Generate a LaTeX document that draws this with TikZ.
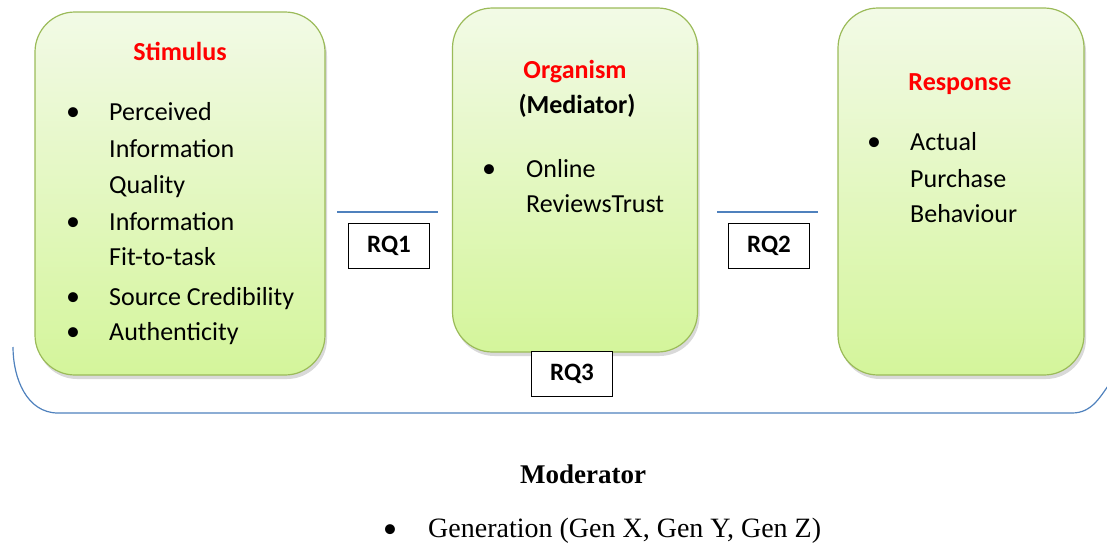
\documentclass[tikz,border=0pt]{standalone}
\usepackage{fontspec}
\setmainfont{Carlito}
\newfontfamily\timesfont{Liberation Serif}
\usetikzlibrary{shadows}
\definecolor{boxtop}{RGB}{242,250,230}
\definecolor{boxbot}{RGB}{212,245,155}
\definecolor{boxline}{RGB}{155,187,89}
\definecolor{linkblue}{RGB}{79,129,189}
\definecolor{titlered}{RGB}{255,0,0}
\tikzset{
  stage/.style={draw=boxline, line width=1.2pt, rounded corners=40pt,
    top color=boxtop, bottom color=boxbot,
    drop shadow={shadow xshift=2pt, shadow yshift=-4pt, opacity=0.3}},
  txt/.style={font=\fontsize{26}{32}\selectfont, inner sep=0pt, anchor=base west},
  ttl/.style={font=\bfseries\fontsize{26}{32}\selectfont, inner sep=0pt, anchor=base},
  bul/.style={font=\fontsize{28}{32}\selectfont, inner sep=0pt, anchor=base},
  rq/.style={draw=black, line width=1.3pt, fill=white, inner sep=0pt,
    minimum width=81pt, minimum height=45pt, font=\bfseries\fontsize{25}{30}\selectfont},
  link/.style={draw=linkblue, line width=1.2pt},
  mod/.style={font=\timesfont\fontsize{28}{32}\selectfont, inner sep=0pt}
}
\begin{document}
\begin{tikzpicture}[x=1pt, y=-1pt]
\useasboundingbox (0,0) rectangle (1107,546);

% the big bracket of the moderator
\draw[link] (13,347) to[out=-90, in=180] (58,413) -- (1072,413)
  to[out=0, in=-125] (1112,380);

% three stages
\node[stage, minimum width=290pt, minimum height=363pt] (stim) at (180,193.5) {};
\node[stage, minimum width=245pt, minimum height=344pt] (org) at (575,180) {};
\node[stage, minimum width=246pt, minimum height=367pt] (resp) at (961,191.5) {};

% stimulus
\node[ttl, text=titlered] (stimT) at (180,60) {Stimulus};
\node[bul] (sb1) at (73,120) {•};
\node[txt] (s1) at (109,120) {Perceived};
\node[txt] (s2) at (109,157) {Information};
\node[txt] (s3) at (109,193) {Quality};
\node[bul] (sb2) at (73,230) {•};
\node[txt] (s4) at (109,230) {Information};
\node[txt] (s5) at (109,265) {Fit-to-task};
\node[bul] (sb3) at (73,305) {•};
\node[txt] (s6) at (109,305) {Source Credibility};
\node[bul] (sb4) at (73,340) {•};
\node[txt] (s7) at (109,340) {Authenticity};

% organism
\node[ttl, text=titlered] (orgT) at (575,78) {Organism};
\node[ttl] (orgM) at (577,113) {(Mediator)};
\node[bul] (ob1) at (489,177) {•};
\node[txt] (o1) at (526,177) {Online};
\node[txt] (o2) at (526,212) {ReviewsTrust};

% response
\node[ttl, text=titlered] (respT) at (960,90) {Response};
\node[bul] (rb1) at (874,150) {•};
\node[txt] (r1) at (910,150) {Actual};
\node[txt] (r2) at (910,187) {Purchase};
\node[txt] (r3) at (910,222) {Behaviour};

% links and questions
\coordinate (l1a) at (337,212);
\coordinate (l1b) at (438,212);
\coordinate (l2a) at (717,212);
\coordinate (l2b) at (818,212);
\draw[link] (l1a) -- (l1b);
\draw[link] (l2a) -- (l2b);
\node[rq] (rq1) at (389,246) {RQ1};
\node[rq] (rq2) at (769,246) {RQ2};
\node[rq] (rq3) at (572,374) {RQ3};

% moderator
\node[mod, font=\timesfont\bfseries\fontsize{27}{32}\selectfont, anchor=base] (modT) at (583,483) {Moderator};
\node[bul] (mb1) at (390,537) {•};
\node[mod, anchor=base west] (m1) at (428,537) {Generation (Gen X, Gen Y, Gen Z)};
\end{tikzpicture}
\end{document}
